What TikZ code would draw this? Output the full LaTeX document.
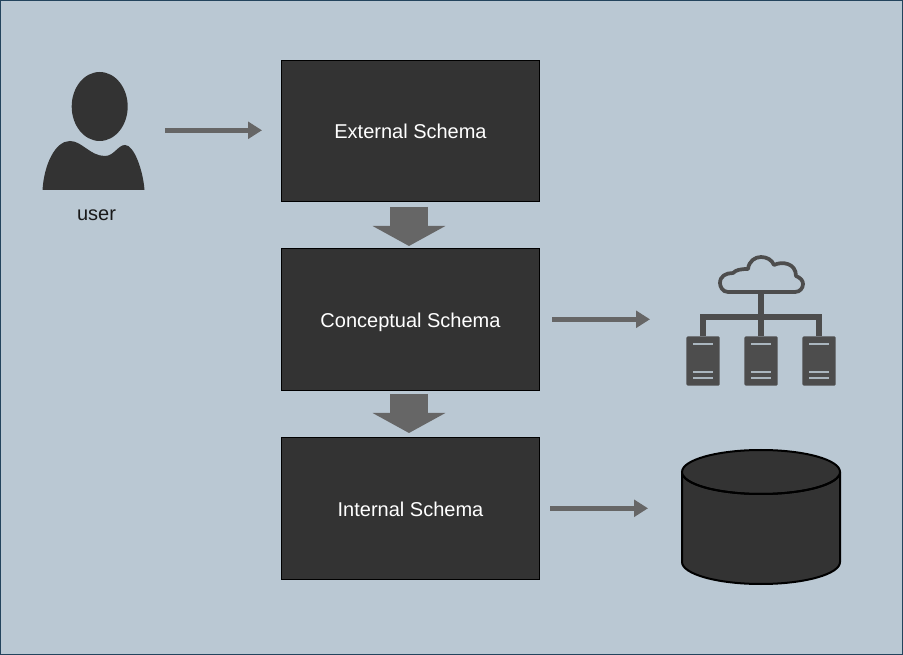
\documentclass[tikz,border=0pt]{standalone}
\usepackage{fontspec}
\setmainfont{Liberation Sans}
\usetikzlibrary{positioning,arrows.meta}
\definecolor{panelfill}{HTML}{BAC8D3}
\definecolor{panelline}{HTML}{23445D}
\definecolor{boxfill}{HTML}{333333}
\definecolor{arrowgray}{HTML}{666666}
\definecolor{icongray}{HTML}{4D4D4D}
\tikzset{
    schemabox/.style={rectangle, draw=black, fill=boxfill, line width=0.75pt, minimum width=193.5pt, minimum height=106pt, inner sep=0pt, text=white, text height=14pt, text depth=2.6pt, font=\fontsize{15pt}{18pt}\selectfont},
    flowarrow/.style={draw=arrowgray, line width=4pt, -{Triangle[length=10.5pt,width=12.5pt]}},
    blockarrow/.style={draw=arrowgray, line width=28pt, -{Triangle[length=15pt,width=54pt]}},
    serverbox/.style={rectangle, fill=icongray, rounded corners=1pt, minimum width=25pt, minimum height=37pt, inner sep=0pt},
    serverbar/.style={draw=panelfill!85!icongray, line width=1pt},
    iconline/.style={draw=icongray, line width=4.2pt},
}
\begin{document}
\begin{tikzpicture}[x=0.75pt, y=-0.75pt]
    \useasboundingbox (0,0) rectangle (903,655);
    \draw[fill=panelfill, draw=panelline, line width=0.75pt] (0.5,0.5) rectangle (902.5,654.5);

    % Schema boxes
    \node[schemabox] (extschema) at (410.5,131) {External Schema};
    \node[schemabox] (conschema) at (410.5,319.5) {Conceptual Schema};
    \node[schemabox] (intschema) at (410.5,508.5) {Internal Schema};

    % Block arrows between the boxes
    \coordinate (extout) at (409,207);
    \coordinate (conin) at (409,246);
    \coordinate (conout) at (409,394);
    \coordinate (intin) at (409,433);
    \draw[blockarrow] (extout) -- (conin);
    \draw[blockarrow] (conout) -- (intin);

    % User
    \fill[boxfill] (99.7,106.5) ellipse [x radius=28, y radius=34.5];
    \fill[boxfill] (42.5,190) .. controls (44,165) and (55,141) .. (70,141)
        .. controls (82,141) and (90,156) .. (105,156)
        .. controls (114,156) and (118,145) .. (125,145)
        .. controls (134,145) and (143,170) .. (144.5,190) -- cycle;
    \node[font=\fontsize{15pt}{18pt}\selectfont, text=black!90] (userlabel) at (96.5,215.5) {user};

    \coordinate (userout) at (165,130.3);
    \coordinate (extin) at (262,130.3);
    \draw[flowarrow] (userout) -- (extin);

    % Cloud
    \draw[draw=icongray, line width=2.8pt, line join=round] (728,292)
        .. controls (722,292) and (720,286) .. (720,283)
        .. controls (720,276) and (726,273) .. (733,273)
        .. controls (736,270) and (740,269) .. (748,269)
        .. controls (749,261) and (755,257) .. (761,257)
        .. controls (767,257) and (772,260) .. (774,265)
        .. controls (782,261) and (796,263) .. (796,276)
        .. controls (801,278) and (803,281) .. (803,284)
        .. controls (803,288) and (800,292) .. (795,292) -- cycle;
    \coordinate (cloudbase) at (761,293);

    % Servers
    \foreach \i/\x in {1/703, 2/761, 3/819} {
        \node[serverbox] (server\i) at (\x,361) {};
        \draw[serverbar] (\x-10,344) -- (\x+10,344);
        \draw[serverbar] (\x-10,372) -- (\x+10,372);
        \draw[serverbar] (\x-10,378) -- (\x+10,378);
    }
    \draw[iconline] (cloudbase) -- (server2.north);
    \draw[iconline] (server1.north) -- (server1.north |- 0,317) -- (server3.north |- 0,317) -- (server3.north);

    \coordinate (conright) at (552,319.3);
    \coordinate (cloudin) at (650,319.3);
    \draw[flowarrow] (conright) -- (cloudin);

    % Database
    \draw[fill=boxfill, draw=black, line width=1.5pt] (682,472) -- (682,562)
        .. controls (682,574) and (717,584) .. (761,584)
        .. controls (805,584) and (840,574) .. (840,562) -- (840,472);
    \draw[fill=boxfill, draw=black, line width=1.5pt] (761,472) ellipse [x radius=79, y radius=22];
    \fill[boxfill] (683,472) rectangle (839,475);
    \draw[draw=black, line width=1.5pt] (682,472) .. controls (682,484) and (717,494) .. (761,494)
        .. controls (805,494) and (840,484) .. (840,472);

    \coordinate (intright) at (550,508.3);
    \coordinate (dbin) at (648,508.3);
    \draw[flowarrow] (intright) -- (dbin);
\end{tikzpicture}
\end{document}
